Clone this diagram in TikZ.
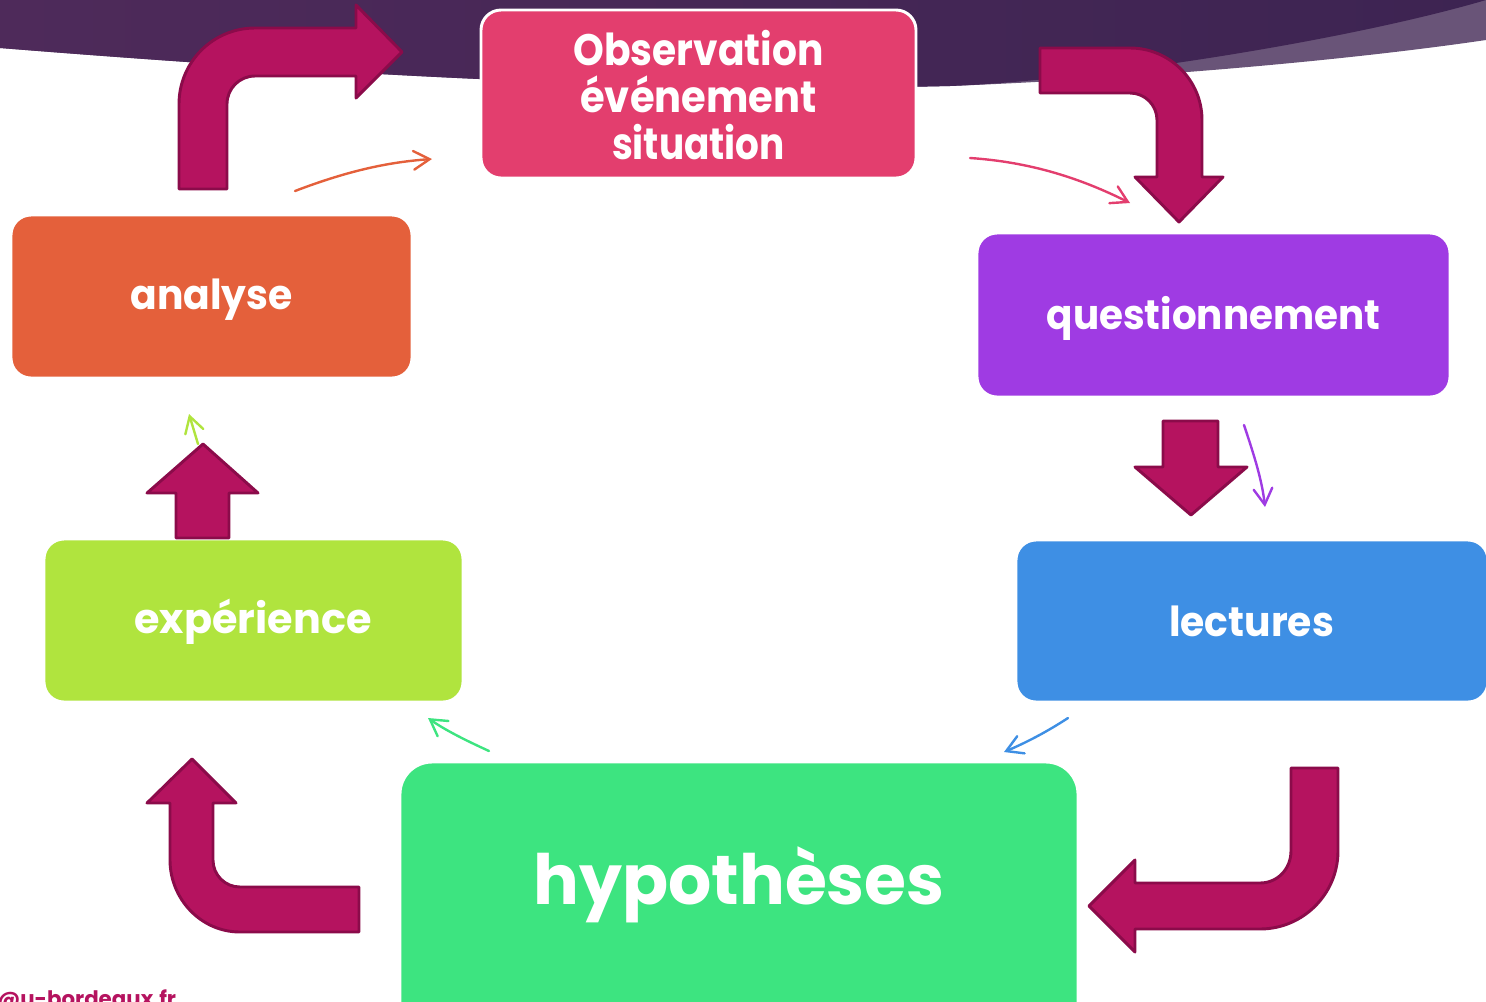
\documentclass[tikz,border=0pt]{standalone}
\usepackage{fontspec}
\setmainfont{Poppins}
\usetikzlibrary{arrows.meta}

\definecolor{bandL}{HTML}{4E2A5A}
\definecolor{bandM}{HTML}{66315F}
\definecolor{bandR}{HTML}{3D2452}
\definecolor{bandLight}{HTML}{695478}
\definecolor{obsC}{HTML}{E33E6E}
\definecolor{anaC}{HTML}{E4603B}
\definecolor{queC}{HTML}{9F3BE3}
\definecolor{lecC}{HTML}{3E8FE4}
\definecolor{expC}{HTML}{B0E43E}
\definecolor{hypC}{HTML}{3DE480}
\definecolor{blockFill}{HTML}{B5135F}
\definecolor{blockEdge}{HTML}{8B0B4A}

% horizontally narrowed text
\newcommand{\narrow}[2]{\scalebox{#1}[1]{#2}}

\tikzset{
  stage/.style={draw=white, line width=2.2pt, rounded corners=15pt,
    inner sep=0pt, minimum width=1pt, text=white, align=center},
  label/.style={text=white, inner sep=0pt, font=\bfseries\fontsize{31}{35}\selectfont},
  blockarrow/.style={fill=blockFill, draw=blockEdge, line width=2.2pt, line join=round},
  flow/.style={line width=1.8pt, line cap=round,
    -{Straight Barb[length=12pt,width=14pt,line cap=round]}},
}

\begin{document}
\begin{tikzpicture}[x=0.75pt, y=-0.75pt]
\useasboundingbox (0,0) rectangle (1486,1001);
\clip (0,0) rectangle (1486,1001);

% header band: light lower strip, then the dark shaded band over it
\fill[bandLight] (0,0) -- (0,48) .. controls (400,80) and (700,92) .. (950,86)
  .. controls (1150,78) and (1350,60) .. (1486,40) -- (1486,0) -- cycle;
\shade[left color=bandL, middle color=bandM, right color=bandR]
  (0,0) -- (0,48) .. controls (400,80) and (700,92) .. (950,86)
  .. controls (1100,80) and (1350,40) .. (1486,0) -- cycle;

% stage boxes
\node[stage, fill=obsC, minimum width=326.25pt, minimum height=126pt] (obs) at (698.5,94) {};
\node[stage, fill=anaC, minimum width=300.75pt, minimum height=122.25pt] (ana) at (211.5,296.5) {};
\node[stage, fill=queC, minimum width=354.75pt, minimum height=123pt] (que) at (1213.5,315) {};
\node[stage, fill=lecC, minimum width=354pt, minimum height=121.5pt] (lec) at (1252,621) {};
\node[stage, fill=expC, minimum width=314.25pt, minimum height=122.25pt] (exp) at (253.5,620.5) {};
\node[stage, fill=hypC, minimum width=508.5pt, minimum height=208.5pt, rounded corners=24pt] (hyp) at (739,901) {};

% stage labels
\node[label, align=center, font=\bfseries\fontsize{33}{35.5}\selectfont] (obstext) at (698.5,95)
  {\narrow{0.89}{Observation}\\\narrow{0.91}{événement}\\\narrow{0.85}{situation}};
\node[label] (anatext) at (211.5,300) {\narrow{0.95}{analyse}};
\node[label] (quetext) at (1213.5,318) {\narrow{0.94}{questionnement}};
\node[label] (lectext) at (1251.5,621) {\narrow{0.95}{lectures}};
\node[label] (exptext) at (253,622) {expérience};
\node[label, font=\bfseries\fontsize{52}{52}\selectfont] (hyptext) at (739,885) {\narrow{0.98}{hypothèses}};

% block arrows around the cycle
\draw[blockarrow] (179,189) -- (179,104) .. controls (179,62) and (213,28) .. (255,28)
  -- (356,28) -- (356,5) -- (402,52) -- (356,98) -- (356,76) -- (255,76)
  .. controls (239.5,76) and (227,88.5) .. (227,104) -- (227,189) -- cycle;
\draw[blockarrow] (1040,48) -- (1130,48) .. controls (1169.7,48) and (1202,80.3) .. (1202,120)
  -- (1202,177) -- (1223,177) -- (1179,222) -- (1135,177) -- (1157,177) -- (1157,120)
  .. controls (1157,105.1) and (1144.9,93) .. (1130,93) -- (1040,93) -- cycle;
\draw[blockarrow] (1163,421) -- (1218,421) -- (1218,467) -- (1247,467) -- (1191,515)
  -- (1135,467) -- (1163,467) -- cycle;
\draw[blockarrow] (176,538) -- (176,493) -- (147,493) -- (203,444) -- (258,493)
  -- (229,493) -- (229,538) -- cycle;
\draw[blockarrow] (1291,768) -- (1338,768) -- (1338,851) .. controls (1338,894) and (1303,929) .. (1260,929)
  -- (1135,929) -- (1135,952) -- (1089,906) -- (1135,860) -- (1135,883) -- (1260,883)
  .. controls (1277.7,883) and (1291,868.7) .. (1291,851) -- cycle;
\draw[blockarrow] (359,887) -- (240,887) .. controls (225,887) and (213,875) .. (213,860)
  -- (213,803) -- (236,803) -- (192,759) -- (147,803) -- (170,803) -- (170,860)
  .. controls (170,899) and (201,932) .. (240,932) -- (359,932) -- cycle;

% thin flow arrows between stages
\coordinate (a1) at (295,191);  \coordinate (a2) at (432,159);
\coordinate (b1) at (970,158);  \coordinate (b2) at (1130,203);
\coordinate (c1) at (1244,425); \coordinate (c2) at (1265,507);
\coordinate (d1) at (1068,718); \coordinate (d2) at (1004,752);
\coordinate (e1) at (489,751);  \coordinate (e2) at (428,718);
\coordinate (f1) at (198,444);  \coordinate (f2) at (189,414);
\draw[flow, anaC] (a1) .. controls (350,170) and (390,162) .. (a2);
\draw[flow, obsC] (b1) .. controls (1030,162) and (1080,178) .. (b2);
\draw[flow, queC] (c1) .. controls (1254,455) and (1262,480) .. (c2);
\draw[flow, lecC] (d1) .. controls (1045,733) and (1025,743) .. (d2);
\draw[flow, hypC] (e1) .. controls (465,740) and (445,730) .. (e2);
\draw[flow, expC] (f1) .. controls (195,434) and (192,424) .. (f2);

% contact address along the lower edge
\node[anchor=base west, inner sep=0pt, text=blockFill,
  font=\bfseries\fontsize{16}{16}\selectfont] (mail) at (-3,1006) {@u-bordeaux.fr};
\end{tikzpicture}
\end{document}
